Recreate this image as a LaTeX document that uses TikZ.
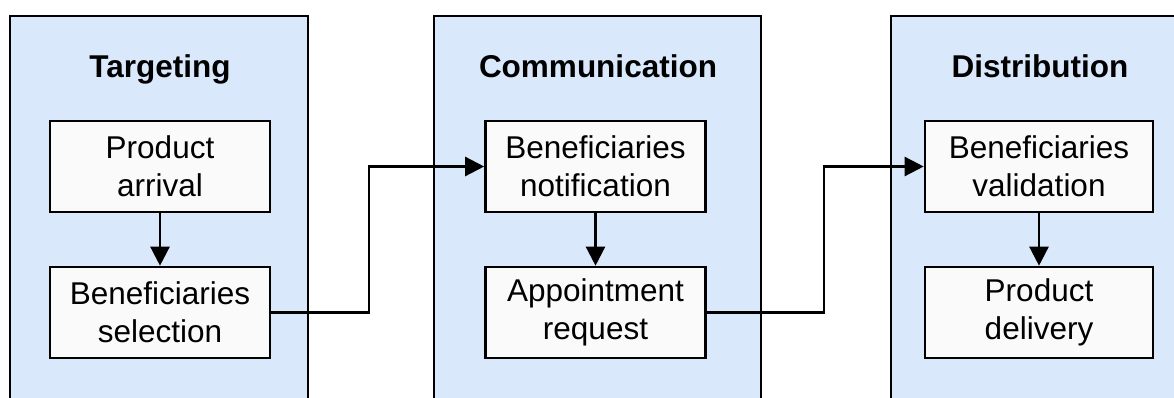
\documentclass[tikz,border=0pt]{standalone}
\usepackage{fontspec}
\setmainfont{Liberation Sans}
\usetikzlibrary{arrows.meta}
\definecolor{panelblue}{HTML}{DAE8FC}
\definecolor{boxfill}{HTML}{FAFAFA}
\begin{document}
\begin{tikzpicture}[x=1pt,y=-1pt,
  panel/.style={fill=panelblue,draw=black,line width=1.6pt},
  stagebox/.style={draw=black,fill=boxfill,line width=2.6pt,minimum width=220pt,minimum height=91pt,inner sep=0pt,align=center,font=\fontsize{31.5}{38}\selectfont},
  paneltitle/.style={font=\bfseries\fontsize{31.5}{38}\selectfont,inner sep=0pt,anchor=base},
  flow/.style={line width=2.4pt,-{Triangle[width=19pt,length=19pt]}}]
\useasboundingbox (0,0) rectangle (1174,398);
\clip (0,0) rectangle (1174,398);
\fill[white] (0,0) rectangle (1174,398);
% panels
\draw[panel] (10,16) rectangle (308,420);
\draw[panel] (434,16) rectangle (761,420);
\draw[panel] (891,16) rectangle (1190,420);
% titles
\node[paneltitle] (t1) at (160,78) {Targeting};
\node[paneltitle] (t2) at (598,78) {Communication};
\node[paneltitle] (t3) at (1040,78) {Distribution};
% boxes
\node[stagebox] (a1) at (160,166.5) {Product\\arrival};
\node[stagebox] (a2) at (160,312.5) {Beneficiaries\\selection};
\node[stagebox] (b1) at (595.5,166.5) {Beneficiaries\\notification};
\node[stagebox] (b2) at (595.5,312.5) {Appointment\\request};
\node[stagebox,minimum width=228pt] (c1) at (1039,166.5) {Beneficiaries\\validation};
\node[stagebox,minimum width=228pt] (c2) at (1039,312.5) {Product\\delivery};
% connectors
\draw[flow] (a1) -- (a2);
\draw[flow] (b1) -- (b2);
\draw[flow] (c1) -- (c2);
\coordinate (k1) at (369,312.5);
\coordinate (k2) at (369,166.5);
\coordinate (k3) at (824,312.5);
\coordinate (k4) at (824,166.5);
\draw[flow] (a2.east) -- (k1) -- (k2) -- (b1.west);
\draw[flow] (b2.east) -- (k3) -- (k4) -- (c1.west);
\end{tikzpicture}
\end{document}
